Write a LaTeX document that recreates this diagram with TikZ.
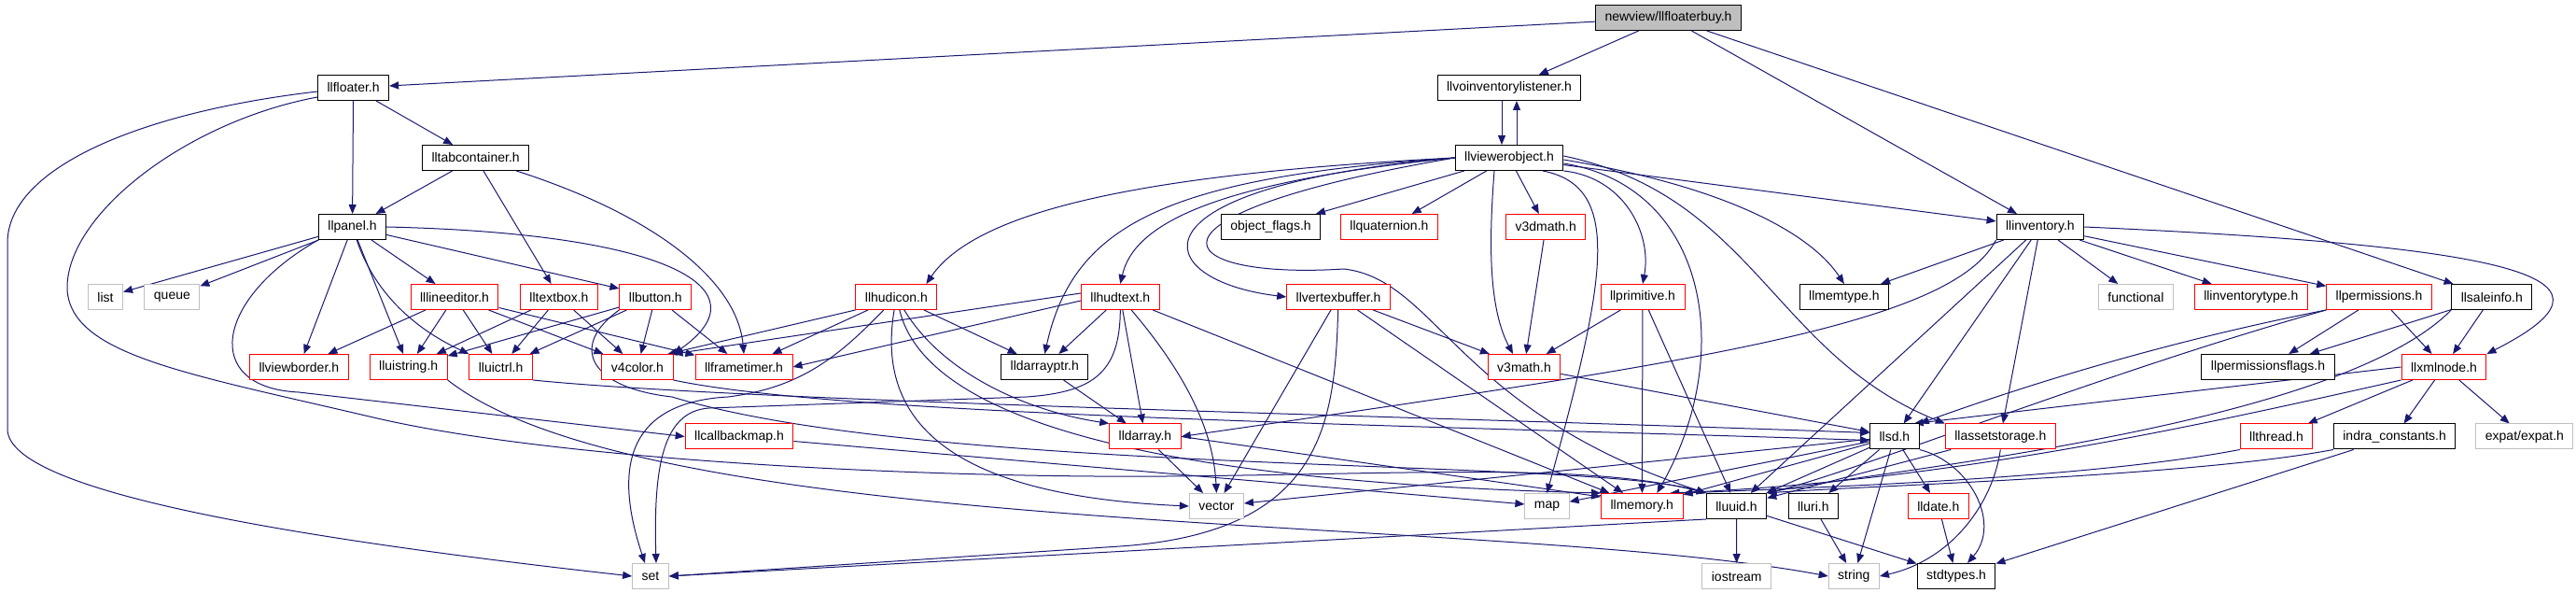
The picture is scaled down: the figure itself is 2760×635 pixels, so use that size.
\documentclass[tikz,border=0pt]{standalone}
\usepackage{fontspec}
\setmainfont{Liberation Sans}
\usetikzlibrary{arrows.meta}
\definecolor{edgeBlue}{RGB}{25,25,112}
\definecolor{sysGray}{RGB}{191,191,191}
\pgfdeclarelayer{edges}
\pgfsetlayers{edges,main}
\tikzset{
  file/.style={
    draw=black,
    fill=white,
    line width=0.5pt,
    font=\fontsize{7}{8}\selectfont,
    minimum height=13.5pt,
    inner xsep=5pt,
    inner ysep=0pt
  },
  morefile/.style={file, draw=red},
  sysfile/.style={file, draw=sysGray},
  rootfile/.style={file, fill=sysGray},
  dep/.style={
    draw=edgeBlue,
    line width=0.5pt,
    -{Triangle[length=5pt,width=4pt]}
  }
}

\begin{document}
\begin{tikzpicture}[x=0.5pt, y=-0.5pt]
  \useasboundingbox (0,0) rectangle (2760,635);

  % rows of headers, top to bottom
  \node[rootfile] (root) at (1787.5,19) {newview/llfloaterbuy.h};
  \node[file] (flt) at (378.6,94) {llfloater.h};
  \node[file] (voi) at (1617,94) {llvoinventorylistener.h};
  \node[file] (tab) at (509.6,169) {lltabcontainer.h};
  \node[file] (vob) at (1617,169) {llviewerobject.h};
  \node[file] (pnl) at (377.5,243) {llpanel.h};
  \node[file] (oflg) at (1361.5,243) {object\_flags.h};
  \node[morefile] (quat) at (1488.4,243) {llquaternion.h};
  \node[morefile] (v3d) at (1656.2,243) {v3dmath.h};
  \node[file] (inv) at (2185.9,243) {llinventory.h};

  \node[sysfile] (list) at (113,318) {list};
  \node[sysfile] (queue) at (184.4,318) {queue};
  \node[morefile] (ledit) at (487,318) {lllineeditor.h};
  \node[morefile] (tbox) at (599,318) {lltextbox.h};
  \node[morefile] (btn) at (702.3,318) {llbutton.h};
  \node[morefile] (hicon) at (960.4,318) {llhudicon.h};
  \node[morefile] (htext) at (1200.3,318) {llhudtext.h};
  \node[morefile] (vbuf) at (1434.1,318) {llvertexbuffer.h};
  \node[morefile] (prim) at (1760,318) {llprimitive.h};
  \node[file] (mtype) at (1975.9,318) {llmemtype.h};
  \node[sysfile] (func) at (2288.4,318) {functional};
  \node[morefile] (itype) at (2411.8,318) {llinventorytype.h};
  \node[morefile] (perm) at (2549,318) {llpermissions.h};
  \node[file] (sale) at (2669.8,318) {llsaleinfo.h};

  \node[morefile] (vbord) at (320.3,393) {llviewborder.h};
  \node[morefile] (ustr) at (437.7,393) {lluistring.h};
  \node[morefile] (uctrl) at (536.6,393) {lluictrl.h};
  \node[morefile] (v4c) at (683,393) {v4color.h};
  \node[morefile] (ftim) at (797,393) {llframetimer.h};
  \node[file] (dptr) at (1119.3,393) {lldarrayptr.h};
  \node[morefile] (v3m) at (1633,393) {v3math.h};
  \node[file] (pflg) at (2430,393) {llpermissionsflags.h};
  \node[morefile] (xml) at (2618.5,393) {llxmlnode.h};

  \node[morefile] (cbmap) at (792,467.5) {llcallbackmap.h};
  \node[morefile] (darr) at (1227,467.5) {lldarray.h};
  \node[file] (llsd) at (2029.9,467.5) {llsd.h};
  \node[morefile] (aset) at (2143.3,467.5) {llassetstorage.h};
  \node[morefile] (thr) at (2439,467.5) {llthread.h};
  \node[file] (indra) at (2565.6,467.5) {indra\_constants.h};
  \node[sysfile] (expat) at (2704.9,467.5) {expat/expat.h};

  \node[sysfile] (vector) at (1303.4,542) {vector};
  \node[sysfile] (map) at (1657.5,542) {map};
  \node[morefile] (mem) at (1759.3,542) {llmemory.h};
  \node[file] (uuid) at (1860.5,542) {lluuid.h};
  \node[file] (uri) at (1942.8,542) {lluri.h};
  \node[morefile] (date) at (2076.8,542) {lldate.h};

  \node[sysfile] (set) at (697,617) {set};
  \node[sysfile] (iostr) at (1860.7,617) {iostream};
  \node[sysfile] (string) at (1986.3,617) {string};
  \node[file] (stdt) at (2096,617) {stdtypes.h};

  \begin{pgfonlayer}{edges}
    % straight includes
    \foreach \a/\b in {root/flt, root/voi, root/inv, root/sale,
      flt/tab, flt/pnl, tab/pnl, tab/tbox,
      pnl/list, pnl/queue, pnl/vbord, pnl/ustr, pnl/ledit, pnl/btn,
      ledit/vbord, ledit/ustr, ledit/uctrl, ledit/v4c, ledit/ftim,
      tbox/ustr, tbox/uctrl, tbox/v4c,
      btn/ustr, btn/uctrl, btn/v4c, btn/ftim,
      cbmap/map, hicon/ftim, hicon/dptr,
      htext/dptr, htext/darr, htext/mem, dptr/darr, darr/vector,
      vbuf/vector, vbuf/v3m, vbuf/mem,
      prim/v3m, prim/mem, prim/uuid, v3d/v3m, v3m/llsd,
      vob/oflg, vob/quat, vob/v3d, vob/inv,
      inv/mtype, inv/llsd, inv/uuid, inv/aset, inv/func, inv/itype, inv/perm,
      perm/pflg, perm/xml, sale/pflg, sale/xml,
      xml/thr, xml/indra, xml/expat, indra/stdt,
      llsd/map, llsd/mem, llsd/uuid, llsd/uri, llsd/string, llsd/date, llsd/vector,
      aset/uuid, date/stdt, uri/string, uuid/iostr, uuid/stdt}{
      \draw[dep] (\a) -- (\b);
    }

    % llfloater.h
    \draw[dep] ([yshift=-2pt]flt.west) .. controls (150,120) and (8,180) .. (8,260)
      -- (8,460) .. controls (10,525) and (300,575) .. (set.west);
    \draw[dep] ([yshift=-5pt]flt.west) .. controls (200,130) and (70,230) .. (72,310)
      .. controls (76,380) and (200,400) .. (400,447)
      .. controls (600,494) and (1000,512) .. (1250,510)
      .. controls (1500,508) and (1700,495) .. (uuid.north west);
    \draw[dep] (tab) .. controls (700,230) and (790,300) .. (ftim.north);

    % llpanel.h
    \draw[dep] (pnl.south west) .. controls (230,320) and (215,415) .. (320,420) -- (cbmap.west);
    \draw[dep] (pnl) .. controls (400,310) and (440,350) .. (uctrl.north west);
    \draw[dep] (pnl.east) .. controls (720,250) and (820,310) .. (v4c.north east);

    % ui headers
    \draw[dep] (btn.south west) .. controls (610,370) and (630,415) .. (720,425)
      .. controls (1000,510) and (1700,490) .. (uuid.north west);
    \draw[dep] (ustr.south east) .. controls (700,580) and (1600,550) .. (string.west);
    \draw[dep] (uctrl.south east) .. controls (800,430) and (1500,445) .. ([yshift=2pt]llsd.west);
    \draw[dep] (v4c.south east) .. controls (900,445) and (1500,455) .. ([yshift=-2pt]llsd.west);

    % hud headers
    \draw[dep] (hicon.south west) -- ([xshift=-3pt]v4c.north east);
    \draw[dep] (hicon) .. controls (900,380) and (860,415) .. (780,425)
      .. controls (690,430) and (650,480) .. ([xshift=-3pt]set.north);
    \draw[dep] (hicon) .. controls (940,440) and (1000,530) .. (vector.west);
    \draw[dep] (hicon) .. controls (1010,400) and (1100,440) .. (darr.north west);
    \draw[dep] (hicon) .. controls (990,440) and (1200,515) .. (mem.north west);
    \draw[dep] ([yshift=2pt]htext.west) -- (v4c.north east);
    \draw[dep] ([yshift=-2pt]htext.west) -- (ftim.east);
    \draw[dep] (htext.south) .. controls (1200,400) and (1170,420) .. (1100,425)
      -- (760,437) .. controls (710,440) and (700,500) .. ([xshift=3pt]set.north);
    \draw[dep] (htext) .. controls (1270,400) and (1300,460) .. (vector.north);
    \draw[dep] (darr.east) -- ([yshift=5pt]mem.west);
    \draw[dep] (vbuf) .. controls (1430,450) and (1420,570) .. (1200,585) -- (set.east);

    % llviewerobject.h
    \draw[dep] ([xshift=-4pt]voi.south) -- ([xshift=-4pt]vob.north);
    \draw[dep] ([xshift=4pt]vob.north) -- ([xshift=4pt]voi.south);
    \draw[dep] (vob.west) .. controls (1250,185) and (1050,220) .. ([xshift=-6pt]hicon.north east);
    \draw[dep] (vob.west) .. controls (1250,190) and (1150,240) .. (dptr.north);
    \draw[dep] (vob.west) .. controls (1300,195) and (1215,240) .. (htext.north);
    \draw[dep] (vob.west) .. controls (1200,200) and (1230,300) .. (vbuf.west);
    \draw[dep] (vob.west) .. controls (1200,230) and (1250,300) .. (1440,288)
      .. controls (1540,300) and (1560,440) .. (uuid.north west);
    \draw[dep] ([xshift=-8pt]vob.south) .. controls (1595,260) and (1595,330) .. ([xshift=-6pt]v3m.north);
    \draw[dep] ([xshift=18pt]vob.south) .. controls (1740,200) and (1720,300) .. (map.north);
    \draw[dep] (vob.south east) .. controls (1740,190) and (1770,250) .. (prim.north);
    \draw[dep] ([yshift=-3pt]vob.east) .. controls (1830,200) and (1860,380) .. ([xshift=8pt]mem.north);
    \draw[dep] ([yshift=-1pt]vob.east) .. controls (1850,200) and (1940,250) .. (mtype.north);
    \draw[dep] ([yshift=1pt]vob.east) .. controls (1880,210) and (1900,380) .. (aset.north west);

    % llinventory.h and friends
    \draw[dep] (inv.south west) .. controls (2090,350) and (1800,390) .. (darr.east);
    \draw[dep] (inv.east) .. controls (2720,265) and (2820,300) .. (xml.north east);
    \draw[dep] (perm.south west) .. controls (2300,370) and (2150,420) .. (llsd.north east);
    \draw[dep] (perm.south west) .. controls (2250,400) and (1990,505) .. (uuid.north east);
    \draw[dep] (sale.south west) .. controls (2500,460) and (2000,505) .. (uuid.north east);
    \draw[dep] (xml.west) -- ([xshift=-3pt]llsd.north east);
    \draw[dep] (xml.south west) .. controls (2380,450) and (2100,515) .. ([xshift=15pt]mem.north);
    \draw[dep] (thr.south west) .. controls (2250,510) and (2000,520) .. (mem.north east);
    \draw[dep] (indra.south west) .. controls (2350,510) and (2000,520) .. (uuid.north east);

    % bottom rows
    \draw[dep] (llsd.south east) .. controls (2110,495) and (2145,560) .. ([xshift=6pt]stdt.north);
    \draw[dep] (aset.south) .. controls (2135,540) and (2090,600) .. (string.east);
    \draw[dep] (uuid.south west) -- (set.east);
  \end{pgfonlayer}
\end{tikzpicture}
\end{document}
